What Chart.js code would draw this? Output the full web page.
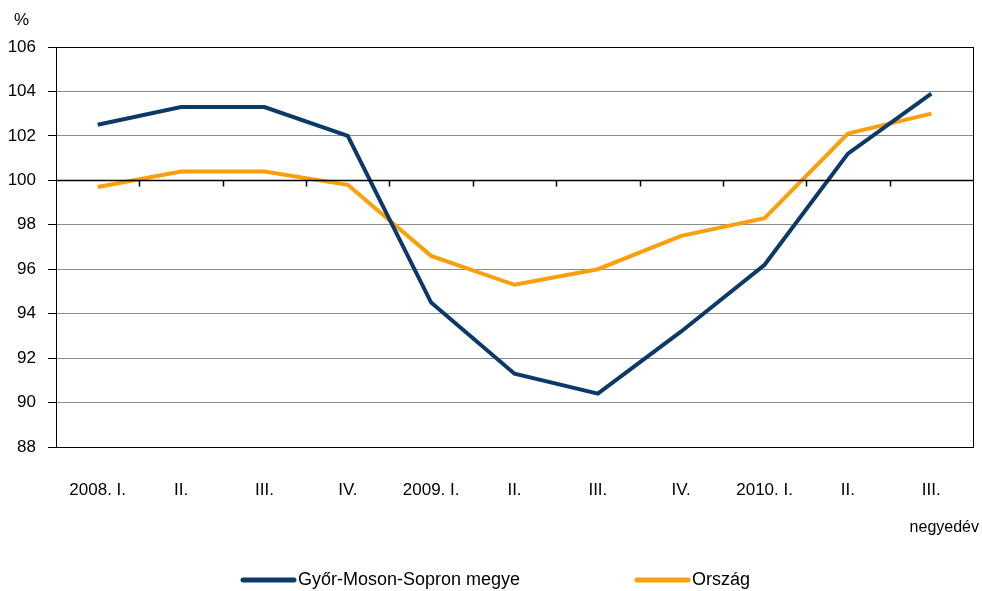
<!DOCTYPE html>
<html>
<head>
<meta charset="utf-8">
<script src="https://cdn.jsdelivr.net/npm/chart.js@4/dist/chart.umd.min.js"></script>
<style>
  html, body { margin: 0; padding: 0; background: #fff; }
  #wrap { width: 982px; height: 591px; }
</style>
</head>
<body>
<div id="wrap"><canvas id="chart-index" width="982" height="591"></canvas></div>
<script>
const quarters = ['2008. I.', 'II.', 'III.', 'IV.', '2009. I.', 'II.', 'III.', 'IV.', '2010. I.', 'II.', 'III.'];
const gyorValues = [102.5, 103.3, 103.3, 102.0, 94.5, 91.3, 90.4, 93.2, 96.2, 101.2, 103.9];
const orszagValues = [99.7, 100.4, 100.4, 99.8, 96.6, 95.3, 96.0, 97.5, 98.3, 102.1, 103.0];
const yTicks = [88, 90, 92, 94, 96, 98, 100, 102, 104, 106];

const FONT = "'Liberation Sans', Arial, sans-serif";

// black 100-line with small downward ticks, box frame, "%" / "negyedév" labels, legend
const frame = {
    id: 'frame',
    afterDatasetsDraw(chart) {
        const { ctx, chartArea: a, scales } = chart;
        const x = scales.x, y = scales.y;
        ctx.save();
        ctx.strokeStyle = '#000';
        ctx.lineWidth = 1;
        ctx.strokeRect(Math.round(a.left) + 0.5, Math.round(a.top) + 0.5, Math.round(a.right - a.left), Math.round(a.bottom - a.top));
        const y100 = Math.round(y.getPixelForValue(100)) + 0.5;
        ctx.lineWidth = 1.5;
        ctx.beginPath();
        ctx.moveTo(a.left, y100);
        ctx.lineTo(a.right, y100);
        for (let i = 0; i < quarters.length - 1; i++) {
            const bx = Math.round((x.getPixelForTick(i) + x.getPixelForTick(i + 1)) / 2) + 0.5;
            ctx.moveTo(bx, y100);
            ctx.lineTo(bx, y100 + 6);
        }
        ctx.stroke();

        ctx.fillStyle = '#000';
        ctx.textBaseline = 'middle';
        ctx.font = '17px ' + FONT;
        ctx.textAlign = 'left';
        ctx.fillText('%', 14, 20);
        ctx.font = '16px ' + FONT;
        ctx.textAlign = 'right';
        ctx.fillText('negyedév', 979, a.bottom + 81);

        // legend
        ctx.font = '18px ' + FONT;
        ctx.textAlign = 'left';
        ctx.lineCap = 'round';
        ctx.lineWidth = 5;
        const ly = a.bottom + 133;
        const starts = [243, 637];
        chart.data.datasets.forEach((ds, i) => {
            const sx = starts[i];
            ctx.strokeStyle = ds.borderColor;
            ctx.beginPath();
            ctx.moveTo(sx, ly);
            ctx.lineTo(sx + 51, ly);
            ctx.stroke();
            ctx.fillText(ds.label, sx + 55, ly);
        });
        ctx.restore();
    }
};

new Chart(document.getElementById('chart-index'), {
    type: 'line',
    data: {
        labels: quarters,
        datasets: [
            {
                label: 'Győr-Moson-Sopron megye',
                data: gyorValues,
                borderColor: '#0b3a68',
                backgroundColor: '#0b3a68',
                borderWidth: 4,
                pointRadius: 0,
                tension: 0,
            },
            {
                label: 'Ország',
                data: orszagValues,
                borderColor: '#fb9f0c',
                backgroundColor: '#fb9f0c',
                borderWidth: 4,
                pointRadius: 0,
                tension: 0,
            },
        ],
    },
    options: {
        responsive: false,
        animation: false,
        layout: { padding: { top: 47, right: 9, left: 0, bottom: 0 } },
        plugins: {
            legend: { display: false },
            tooltip: { enabled: false },
        },
        scales: {
            y: {
                min: 88,
                max: 106,
                afterBuildTicks: axis => { axis.ticks = yTicks.map(v => ({ value: v })); },
                afterFit: axis => { axis.width = 56; },
                grid: { color: '#8c8c8c', lineWidth: 1, tickLength: 8, tickColor: '#000' },
                border: { color: '#000', width: 1 },
                ticks: { color: '#000', padding: 12, font: { family: FONT, size: 17 } },
            },
            x: {
                offset: true,
                afterFit: axis => { axis.height = 144; },
                grid: { display: false },
                border: { color: '#000', width: 1 },
                ticks: { color: '#000', padding: 25, maxRotation: 0, autoSkip: false, font: { family: FONT, size: 17 } },
            },
        },
    },
    plugins: [frame],
});
</script>
</body>
</html>
